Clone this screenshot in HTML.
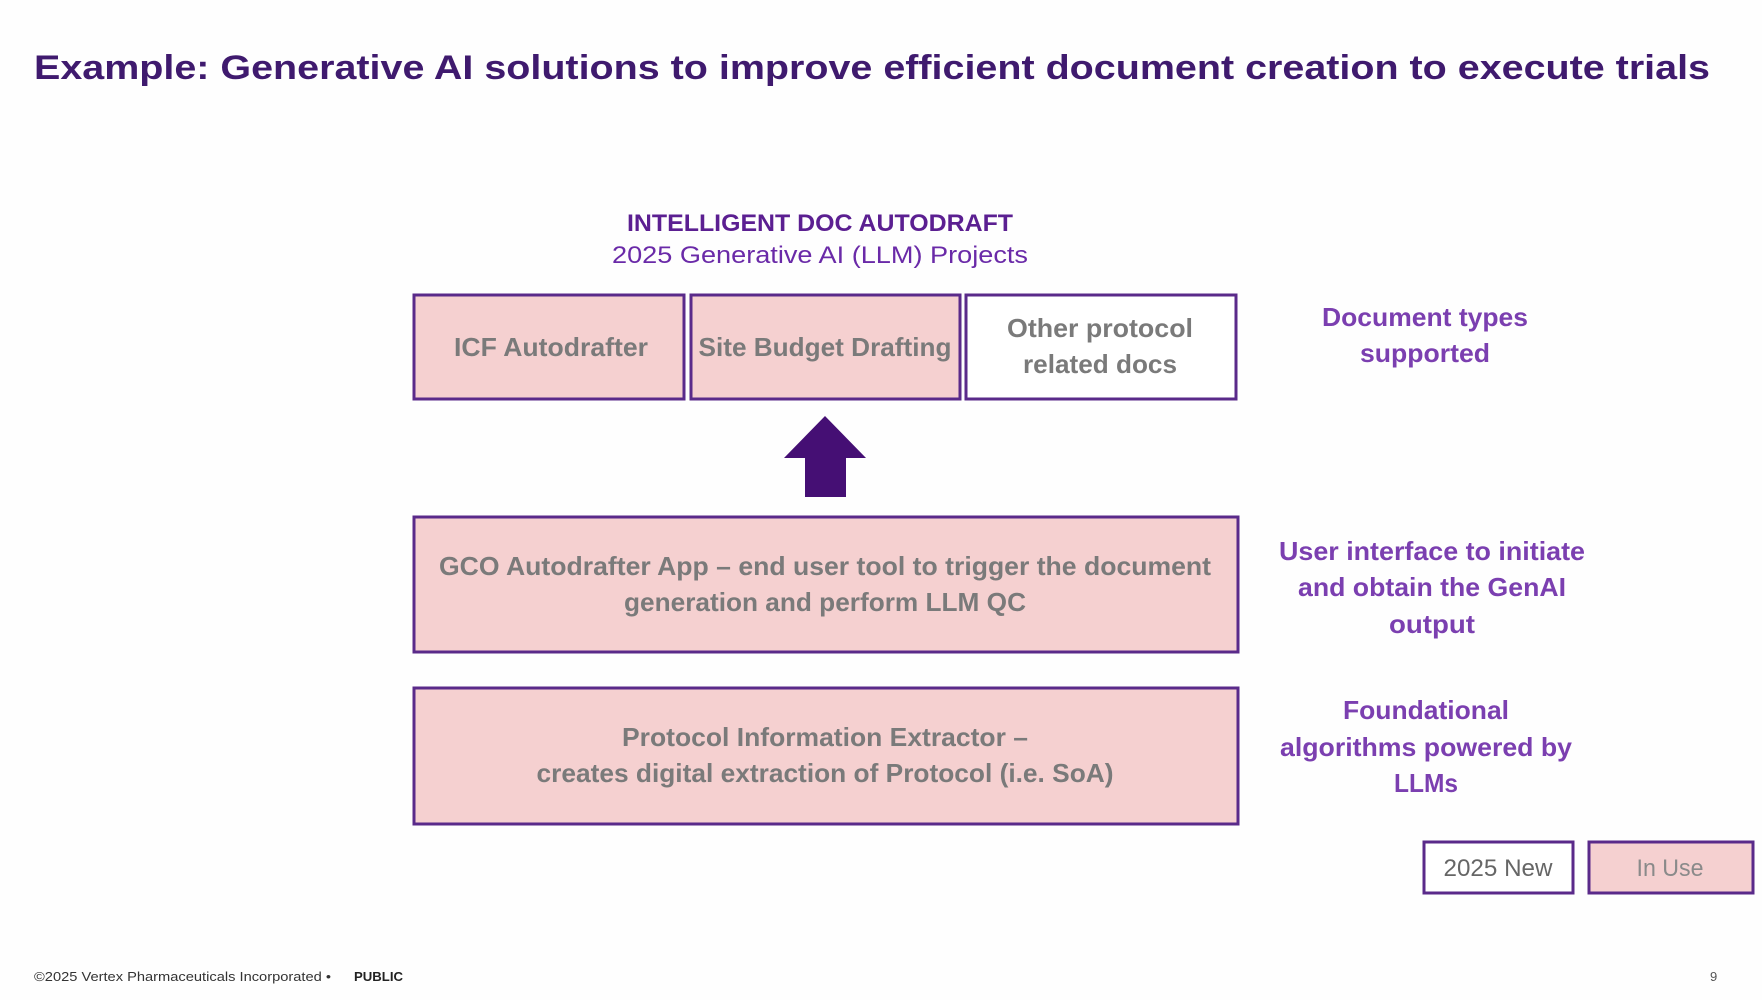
<!DOCTYPE html>
<html><head><meta charset="utf-8"><style>
html,body{margin:0;padding:0;background:#fff;}
svg{display:block;}
text{font-family:"Liberation Sans",sans-serif;}
</style></head><body>
<svg width="1762" height="1000" viewBox="0 0 1762 1000" xmlns="http://www.w3.org/2000/svg">
<rect width="1762" height="1000" fill="#fefefe"/>
<text x="34" y="79" font-size="34" font-weight="bold" fill="#3f1a6e" textLength="1676" lengthAdjust="spacingAndGlyphs">Example: Generative AI solutions to improve efficient document creation to execute trials</text>

<text x="820" y="231" font-size="24" font-weight="bold" fill="#5b1f91" text-anchor="middle" textLength="386" lengthAdjust="spacingAndGlyphs">INTELLIGENT DOC AUTODRAFT</text>
<text x="820" y="263" font-size="24" fill="#6a2aa8" text-anchor="middle" textLength="416" lengthAdjust="spacingAndGlyphs">2025 Generative AI (LLM) Projects</text>

<g stroke="#5a2a8a" stroke-width="3">
<rect x="414" y="295" width="270" height="104" fill="#f5d0d0"/>
<rect x="691" y="295" width="269" height="104" fill="#f5d0d0"/>
<rect x="966" y="295" width="270" height="104" fill="#ffffff"/>
<rect x="414" y="517" width="824" height="135" fill="#f5d0d0"/>
<rect x="414" y="688" width="824" height="136" fill="#f5d0d0"/>
<rect x="1424" y="842" width="149" height="51" fill="#ffffff"/>
<rect x="1589" y="842" width="164" height="51" fill="#f5d0d0"/>
</g>

<g font-size="26" font-weight="bold" fill="#7a7a7a" text-anchor="middle">
<text x="551" y="356" textLength="194" lengthAdjust="spacingAndGlyphs">ICF Autodrafter</text>
<text x="825" y="356" textLength="253" lengthAdjust="spacingAndGlyphs">Site Budget Drafting</text>
<text x="1100" y="337" textLength="186" lengthAdjust="spacingAndGlyphs">Other protocol</text>
<text x="1100" y="373" textLength="154" lengthAdjust="spacingAndGlyphs">related docs</text>
<text x="825" y="575" textLength="772" lengthAdjust="spacingAndGlyphs">GCO Autodrafter App – end user tool to trigger the document</text>
<text x="825" y="611" textLength="402" lengthAdjust="spacingAndGlyphs">generation and perform LLM QC</text>
<text x="825" y="746" textLength="406" lengthAdjust="spacingAndGlyphs">Protocol Information Extractor –</text>
<text x="825" y="782" textLength="577" lengthAdjust="spacingAndGlyphs">creates digital extraction of Protocol (i.e. SoA)</text>
</g>

<polygon points="825,416 866,458 846,458 846,497 805,497 805,458 784,458" fill="#450f74"/>

<g font-size="26" font-weight="bold" fill="#7b3fb0" text-anchor="middle">
<text x="1425" y="326" textLength="206" lengthAdjust="spacingAndGlyphs">Document types</text>
<text x="1425" y="362" textLength="130" lengthAdjust="spacingAndGlyphs">supported</text>
<text x="1432" y="560" textLength="306" lengthAdjust="spacingAndGlyphs">User interface to initiate</text>
<text x="1432" y="596" textLength="268" lengthAdjust="spacingAndGlyphs">and obtain the GenAI</text>
<text x="1432" y="633" textLength="86" lengthAdjust="spacingAndGlyphs">output</text>
<text x="1426" y="719" textLength="166" lengthAdjust="spacingAndGlyphs">Foundational</text>
<text x="1426" y="756" textLength="292" lengthAdjust="spacingAndGlyphs">algorithms powered by</text>
<text x="1426" y="792" textLength="64" lengthAdjust="spacingAndGlyphs">LLMs</text>
</g>

<g font-size="24" fill="#666" text-anchor="middle">
<text x="1498" y="876" textLength="109" lengthAdjust="spacingAndGlyphs">2025 New</text>
<text x="1670" y="876" fill="#8a8a8a" textLength="67" lengthAdjust="spacingAndGlyphs">In Use</text>
</g>

<text x="34" y="981" font-size="13" fill="#333" textLength="297" lengthAdjust="spacingAndGlyphs">©2025 Vertex Pharmaceuticals Incorporated  •</text>
<text x="354" y="981" font-size="13" font-weight="bold" fill="#222" textLength="49" lengthAdjust="spacingAndGlyphs">PUBLIC</text>
<text x="1710" y="981" font-size="13" fill="#555">9</text>
</svg>
</body></html>
